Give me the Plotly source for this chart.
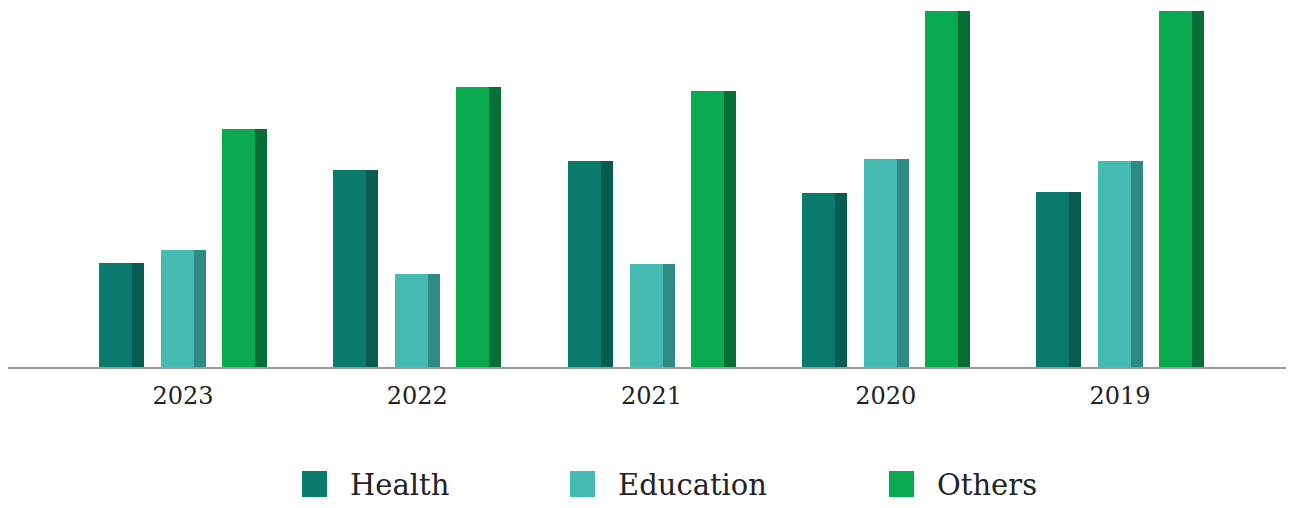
import plotly.graph_objects as go

# Chart data
years = ["2023", "2022", "2021", "2020", "2019"]
series_names = ["Health", "Education", "Others"]
health = [52, 98.5, 103, 87, 87.5]
education = [58.5, 46.5, 51.5, 104, 103]
others = [119, 140, 138, 178, 178]

# Styling
face_colors = ["#0A7A6E", "#45BAB3", "#09A94F"]
side_colors = ["#075C52", "#2C8C85", "#066F36"]
FONT = "DejaVu Serif"

W, H = 1291, 508
M_L, M_R, M_T, M_B = 8, 5, 11, 141
PLOT_W = W - M_L - M_R
PLOT_H = H - M_T - M_B

# Group geometry in category units (one category ~234 px wide)
unit_px = 234.25
face_w = 33 / unit_px
side_w = 12 / unit_px
face_offsets = [-84 / unit_px, -22 / unit_px, 39 / unit_px]

fig = go.Figure()
for name, vals, fc, sc, off in zip(series_names, [health, education, others],
                                   face_colors, side_colors, face_offsets):
    # front face
    fig.add_trace(go.Bar(
        x=years, y=vals, name=name, offset=off, width=face_w,
        marker=dict(color=fc, line=dict(width=0)), showlegend=False,
    ))
    # darker side face for the 3D look
    fig.add_trace(go.Bar(
        x=years, y=vals, name=name, offset=off + face_w, width=side_w,
        marker=dict(color=sc, line=dict(width=0)), showlegend=False,
    ))

x_lo = -(183 - M_L) / unit_px
x_hi = 4 + (M_L + PLOT_W - 1120) / unit_px

fig.update_layout(
    width=W, height=H,
    margin=dict(l=M_L, r=M_R, t=M_T, b=M_B, pad=0),
    paper_bgcolor="white", plot_bgcolor="white",
    barmode="overlay", bargap=0,
    showlegend=False,
    font=dict(family=FONT, color="#222222"),
    xaxis=dict(
        type="category", range=[x_lo, x_hi],
        showline=True, linecolor="#9A9A9A", linewidth=2,
        showgrid=False, ticks="", zeroline=False,
        ticklabelstandoff=6,
        tickfont=dict(family=FONT, size=24, color="#222222"),
    ),
    yaxis=dict(visible=False, range=[0, 178], fixedrange=True),
)


def px_x(px):
    return (px - M_L) / PLOT_W


def px_y(py):
    return (M_T + PLOT_H - py) / PLOT_H


# Legend drawn below the axis: square swatch plus label
swatch_left = [302, 570, 889]
label_left = [348, 616, 935]
for name, fc, sx, lx in zip(series_names, face_colors, swatch_left, label_left):
    fig.add_shape(
        type="rect", xref="paper", yref="paper",
        x0=px_x(sx), x1=px_x(sx + 25), y0=px_y(497), y1=px_y(471),
        fillcolor=fc, line=dict(width=0),
    )
    fig.add_annotation(
        xref="paper", yref="paper", x=px_x(lx), y=px_y(485),
        xanchor="left", yanchor="middle", showarrow=False,
        text=name, font=dict(family=FONT, size=29, color="#222222"),
    )

fig.write_html("out.html")
